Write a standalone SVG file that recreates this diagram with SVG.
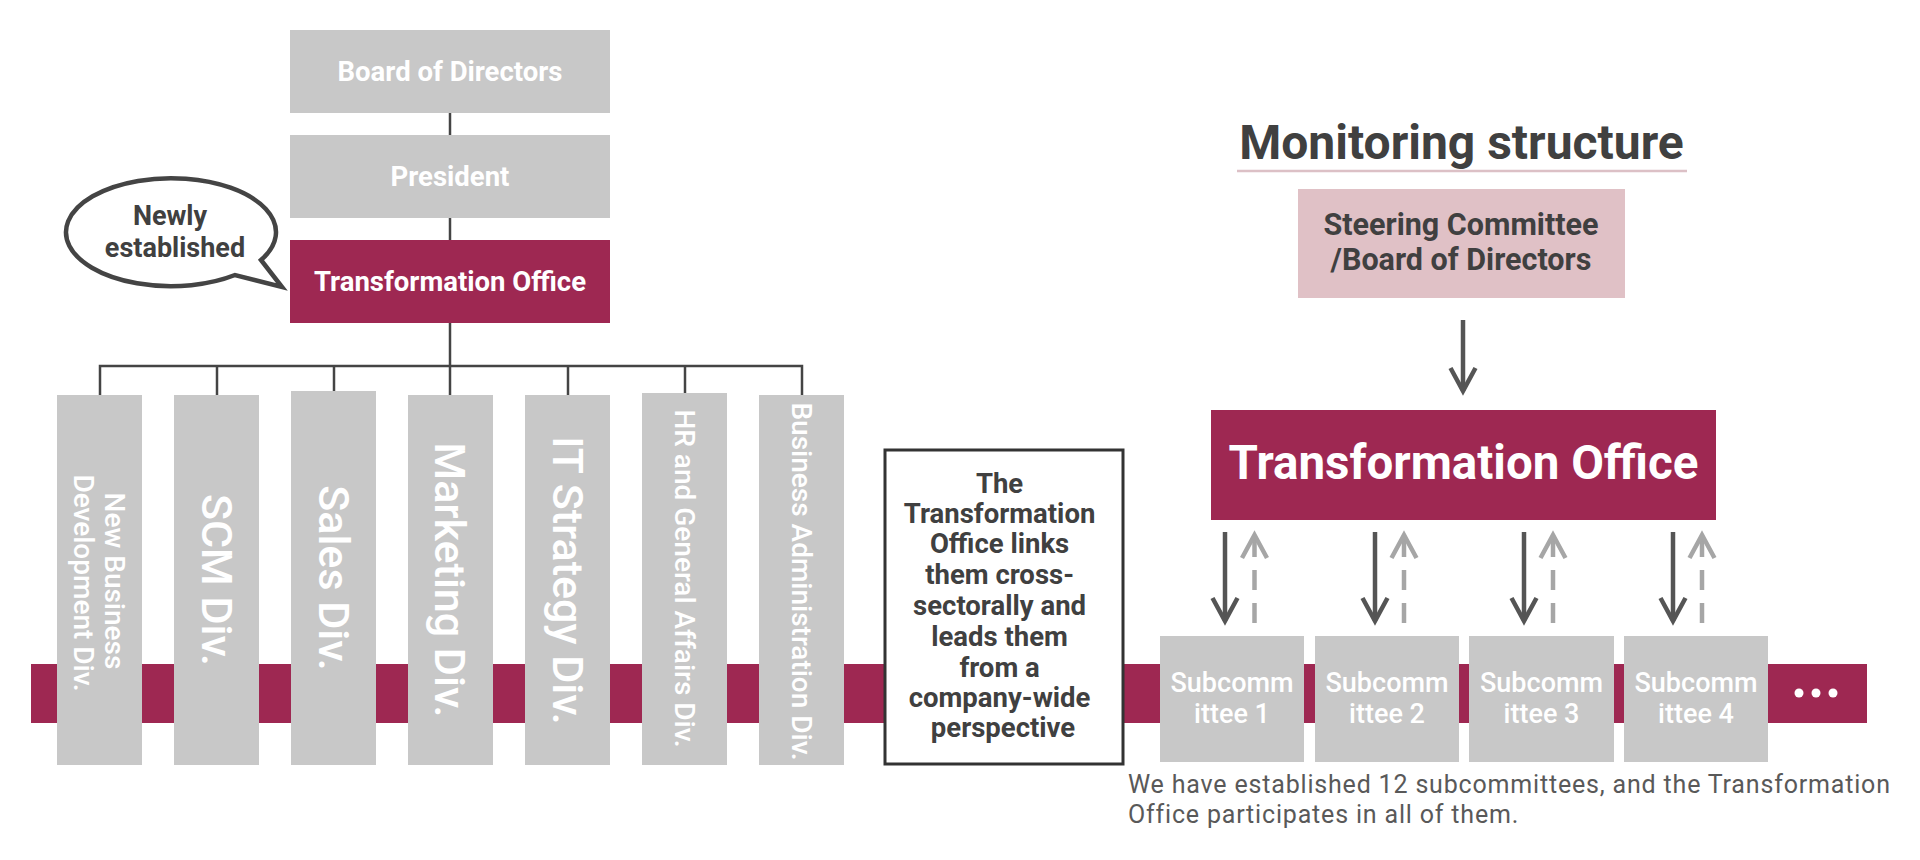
<svg xmlns="http://www.w3.org/2000/svg" width="1920" height="860" viewBox="0 0 1920 860">
<style>
.gray{fill:#c8c8c8}
.crim{fill:#9e2852}
.hw{font-family:Roboto,"Liberation Sans",sans-serif;font-weight:700;fill:#ffffff;text-anchor:middle}
.hd{font-family:Roboto,"Liberation Sans",sans-serif;font-weight:700;fill:#404040;text-anchor:middle}
.vt{font-family:Roboto,"Liberation Sans",sans-serif;font-weight:500;fill:#ffffff;text-anchor:middle}
.sc{font-family:Roboto,"Liberation Sans",sans-serif;font-weight:500;fill:#ffffff;text-anchor:middle;font-size:27px}
.tree{stroke:#444444;stroke-width:2.5;fill:none}
.solid{stroke:#555555;stroke-width:4.5;fill:none}
.dash{stroke:#a6a6a6;stroke-width:4.5;fill:none;stroke-dasharray:20 13}
</style>
<defs>
<marker id="ahDark" markerUnits="userSpaceOnUse" markerWidth="60" markerHeight="60" viewBox="-30 -30 60 60" refX="0" refY="0" orient="auto" overflow="visible">
<path d="M-23,-12.5 L0,0 L-23,12.5" fill="none" stroke="#555555" stroke-width="4.5"/>
</marker>
<marker id="ahLight" markerUnits="userSpaceOnUse" markerWidth="60" markerHeight="60" viewBox="-30 -30 60 60" refX="0" refY="0" orient="auto" overflow="visible">
<path d="M-23,-12.5 L0,0 L-23,12.5" fill="none" stroke="#a6a6a6" stroke-width="4.5" stroke-dasharray="none"/>
</marker>
</defs>
<rect width="1920" height="860" fill="#ffffff"/>

<!-- crimson band -->
<rect id="band" class="crim" x="31" y="664" width="1836" height="59"/>

<g id="connectors">
<line class="tree" x1="450" y1="113" x2="450" y2="135"/>
<line class="tree" x1="450" y1="218" x2="450" y2="240"/>
<line class="tree" x1="450" y1="323" x2="450" y2="395"/>
<polyline class="tree" points="100,395 100,366 802,366 802,395"/>
<line class="tree" x1="217" y1="366" x2="217" y2="395"/>
<line class="tree" x1="334" y1="366" x2="334" y2="391"/>
<line class="tree" x1="568" y1="366" x2="568" y2="395"/>
<line class="tree" x1="685" y1="366" x2="685" y2="393"/>
<line class="solid" x1="1463" y1="320" x2="1463" y2="391" marker-end="url(#ahDark)"/>
<line class="solid" x1="1225" y1="532" x2="1225" y2="621" marker-end="url(#ahDark)"/>
<line class="solid" x1="1375" y1="532" x2="1375" y2="621" marker-end="url(#ahDark)"/>
<line class="solid" x1="1524" y1="532" x2="1524" y2="621" marker-end="url(#ahDark)"/>
<line class="solid" x1="1673" y1="532" x2="1673" y2="621" marker-end="url(#ahDark)"/>
<line class="dash" x1="1254.5" y1="623" x2="1254.5" y2="535" marker-end="url(#ahLight)"/>
<line class="dash" x1="1404" y1="623" x2="1404" y2="535" marker-end="url(#ahLight)"/>
<line class="dash" x1="1553" y1="623" x2="1553" y2="535" marker-end="url(#ahLight)"/>
<line class="dash" x1="1702" y1="623" x2="1702" y2="535" marker-end="url(#ahLight)"/>
</g>

<g id="board">
<rect class="gray" x="290" y="30" width="320" height="83"/>
<text class="hw" x="450" y="81" font-size="27.5">Board of Directors</text>
</g>
<g id="president">
<rect class="gray" x="290" y="135" width="320" height="83"/>
<text class="hw" x="450" y="186" font-size="27.5">President</text>
</g>
<g id="transformation-office-left">
<rect class="crim" x="290" y="240" width="320" height="83"/>
<text class="hw" x="450" y="291" font-size="27.5">Transformation Office</text>
</g>

<g id="newly-bubble">
<path d="M235,275 A105 54 0 1 1 261,260 L282,287 Z" fill="#ffffff" stroke="#444444" stroke-width="4.5" stroke-linejoin="miter"/>
<text class="hd" x="170" y="225" font-size="27">Newly</text>
<text class="hd" x="175" y="257" font-size="27">established</text>
</g>

<g id="div-newbiz">
<rect class="gray" x="57" y="395" width="85" height="370"/>
<text class="vt" font-size="28" transform="translate(105,581) rotate(90)">New Business</text>
<text class="vt" font-size="28" transform="translate(74,583) rotate(90)">Development Div.</text>
</g>
<g id="div-scm">
<rect class="gray" x="174" y="395" width="85" height="370"/>
<text class="vt" font-size="43" transform="translate(202,580) rotate(90)">SCM Div.</text>
</g>
<g id="div-sales">
<rect class="gray" x="291" y="391" width="85" height="374"/>
<text class="vt" font-size="43" transform="translate(319,578) rotate(90)">Sales Div.</text>
</g>
<g id="div-marketing">
<rect class="gray" x="408" y="395" width="85" height="370"/>
<text class="vt" font-size="43" transform="translate(435,580) rotate(90)">Marketing Div.</text>
</g>
<g id="div-it">
<rect class="gray" x="525" y="395" width="85" height="370"/>
<text class="vt" font-size="43" transform="translate(553,580.5) rotate(90)">IT Strategy Div.</text>
</g>
<g id="div-hr">
<rect class="gray" x="642" y="393" width="85" height="372"/>
<text class="vt" font-size="28" transform="translate(675,578.5) rotate(90)">HR and General Affairs Div.</text>
</g>
<g id="div-ba">
<rect class="gray" x="759" y="395" width="85" height="370"/>
<text class="vt" font-size="28" transform="translate(792,581.5) rotate(90)">Business Administration Div.</text>
</g>

<g id="note-box">
<rect x="885" y="450" width="238" height="314" fill="#ffffff" stroke="#333333" stroke-width="3"/>
<text class="hd" font-size="27.5">
<tspan x="1003" y="493">The</tspan>
<tspan x="1003" y="523">Transformation</tspan>
<tspan x="1003" y="553">Office links</tspan>
<tspan x="1003" y="584">them cross-</tspan>
<tspan x="1003" y="615">sectorally and</tspan>
<tspan x="1003" y="646">leads them</tspan>
<tspan x="1003" y="677">from a</tspan>
<tspan x="1003" y="707">company-wide</tspan>
<tspan x="1003" y="737">perspective</tspan>
</text>
</g>

<g id="monitoring-title">
<text class="hd" x="1461.5" y="159" font-size="48">Monitoring structure</text>
<line x1="1237" y1="171" x2="1687" y2="171" stroke="#dcc0c6" stroke-width="2.5"/>
</g>
<g id="steering">
<rect x="1298" y="189" width="327" height="109" fill="#e0c1c6"/>
<text class="hd" x="1461" y="235" font-size="30.5">Steering Committee</text>
<text class="hd" x="1461" y="270" font-size="30.5">/Board of Directors</text>
</g>
<g id="transformation-office-right">
<rect class="crim" x="1211" y="410" width="505" height="110"/>
<text class="hw" x="1463.5" y="479" font-size="47.5">Transformation Office</text>
</g>

<g id="sub1">
<rect class="gray" x="1160" y="636" width="144" height="126"/>
<text class="sc" x="1232" y="692">Subcomm</text>
<text class="sc" x="1232" y="723">ittee 1</text>
</g>
<g id="sub2">
<rect class="gray" x="1315" y="636" width="144" height="126"/>
<text class="sc" x="1387" y="692">Subcomm</text>
<text class="sc" x="1387" y="723">ittee 2</text>
</g>
<g id="sub3">
<rect class="gray" x="1469" y="636" width="145" height="126"/>
<text class="sc" x="1541.5" y="692">Subcomm</text>
<text class="sc" x="1541.5" y="723">ittee 3</text>
</g>
<g id="sub4">
<rect class="gray" x="1624" y="636" width="144" height="126"/>
<text class="sc" x="1696" y="692">Subcomm</text>
<text class="sc" x="1696" y="723">ittee 4</text>
</g>
<g id="ellipsis" fill="#ffffff">
<circle cx="1799" cy="693" r="4.5"/>
<circle cx="1816" cy="693" r="4.5"/>
<circle cx="1833" cy="693" r="4.5"/>
</g>

<g id="footnote">
<text font-family="Roboto,'Liberation Sans',sans-serif" font-size="25" fill="#595959" letter-spacing="0.82">
<tspan x="1128" y="793">We have established 12 subcommittees, and the Transformation</tspan>
<tspan x="1128" y="823">Office participates in all of them.</tspan>
</text>
</g>
</svg>
